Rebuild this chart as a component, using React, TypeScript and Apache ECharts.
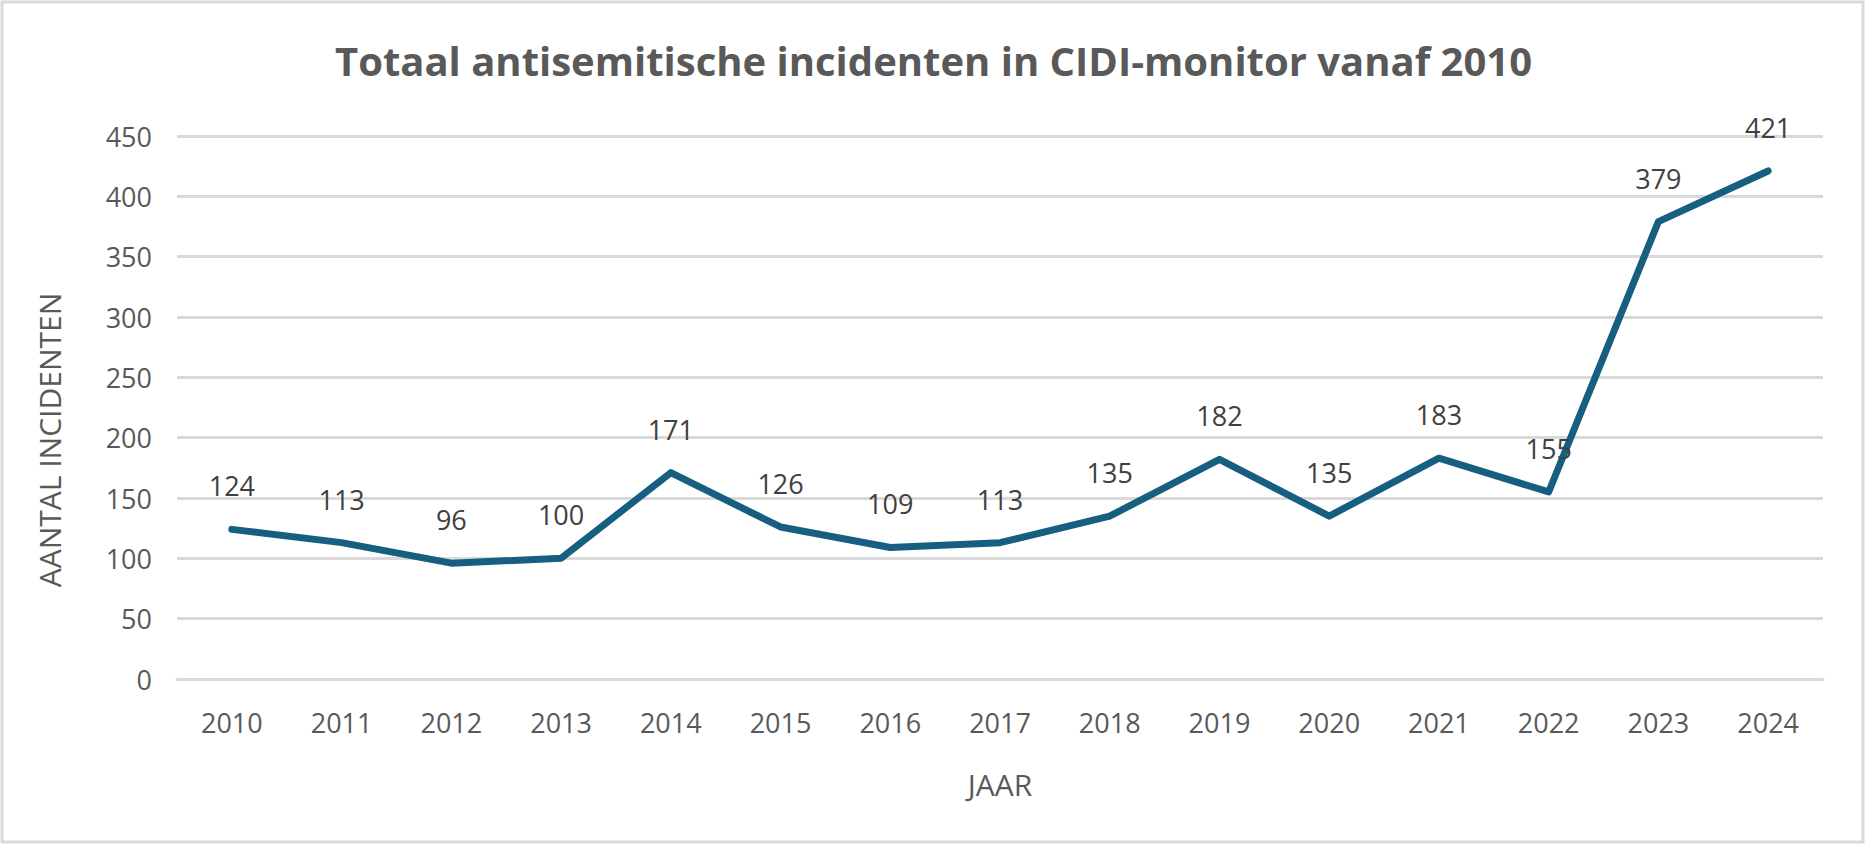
import React, { useEffect, useRef } from "react";
import * as echarts from "echarts";

const years = ["2010","2011","2012","2013","2014","2015","2016","2017","2018","2019","2020","2021","2022","2023","2024"];
const incidents = [124, 113, 96, 100, 171, 126, 109, 113, 135, 182, 135, 183, 155, 379, 421];
const titleText = "Totaal antisemitische incidenten in CIDI-monitor vanaf 2010";
const yName = "AANTAL INCIDENTEN";
const xName = "JAAR";

export default function App() {
  const ref = useRef<HTMLDivElement>(null);
  useEffect(() => {
    document.body.style.margin = "0";
    const chart = echarts.init(ref.current!, null, { renderer: "svg" });
    const font = "'Open Sans', sans-serif";
    chart.setOption({
      animation: false,
      backgroundColor: "#ffffff",
      title: {
        text: titleText,
        left: "center",
        top: 35,
        textStyle: { fontFamily: font, fontWeight: 700, fontSize: 40, color: "#595959" },
      },
      grid: { left: 177, right: 44, top: 136, bottom: 165, containLabel: false },
      xAxis: {
        type: "category",
        data: years,
        boundaryGap: true,
        name: xName,
        nameLocation: "middle",
        nameGap: 90,
        nameTextStyle: { fontFamily: font, fontSize: 30, color: "#595959" },
        axisLine: { lineStyle: { color: "#d9d9d9", width: 3 } },
        axisTick: { show: false },
        axisLabel: { fontFamily: font, fontSize: 27, color: "#595959", margin: 30 },
      },
      yAxis: {
        type: "value",
        min: 0,
        max: 450,
        interval: 50,
        axisLine: { show: false },
        axisTick: { show: false },
        axisLabel: { fontFamily: font, fontSize: 27, color: "#595959", margin: 25 },
        splitLine: { lineStyle: { color: "#d9d9d9", width: 3 } },
      },
      graphic: [
        {
          type: "rect",
          shape: { x: 2, y: 2, width: 1861, height: 840 },
          style: { fill: "none", stroke: "#d9d9d9", lineWidth: 3 },
          silent: true,
        },
        {
          type: "text",
          x: 49,
          y: 440,
          rotation: Math.PI / 2,
          style: {
            text: yName,
            fontFamily: font,
            fontSize: 30,
            fill: "#595959",
            align: "center",
            verticalAlign: "middle",
          },
        },
      ],
      series: [
        {
          type: "line",
          data: incidents,
          symbol: "circle",
          symbolSize: 4,
          showSymbol: true,
          itemStyle: { color: "#175f80" },
          lineStyle: { color: "#175f80", width: 7, cap: "round", join: "round" },
          label: {
            show: true,
            position: "top",
            distance: 28,
            fontFamily: font,
            fontSize: 27,
            color: "#404040",
          },
        },
      ],
    });
    return () => chart.dispose();
  }, []);
  return <div ref={ref} style={{ position: "fixed", left: 0, top: 0, width: 1867, height: 844 }} />;
}
